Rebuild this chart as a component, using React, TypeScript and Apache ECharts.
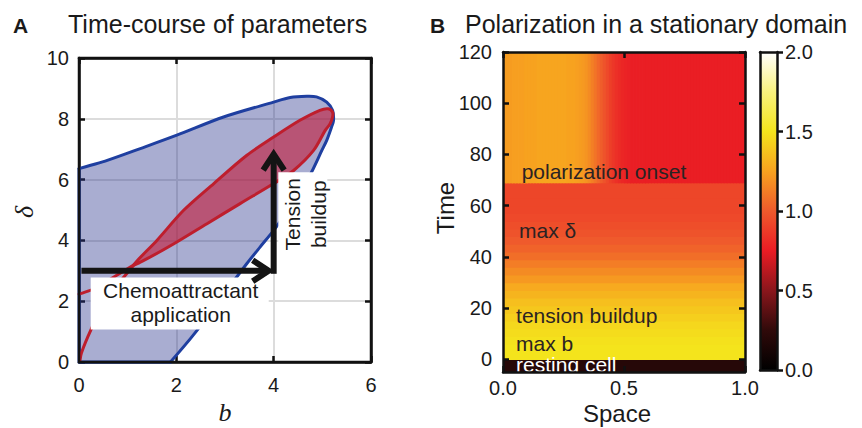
import React, { useEffect, useRef } from "react";
import * as echarts from "echarts";

const SANS = '"Liberation Sans", Arial, Helvetica, sans-serif';
const SERIF = '"Liberation Serif", "Times New Roman", serif';
const INK = "#1a1a1a";

// ---------------- Panel A: parameter plane (b, δ) ----------------
const bTickInterval = 2;
const deltaTickInterval = 2;

// blue (admissible) region: straight edges along the axes + curved boundary
const blueCornerB = [0, 0];
const blueCornerDelta = [0, 0];
const blueCurveB = [0, 0.24, 0.58, 1.26, 2.01, 2.97, 4.0, 4.34, 4.68, 4.88, 5.09, 5.21, 5.23, 5.19, 5.09, 4.99, 4.78, 4.54, 4.27, 4.0, 3.72, 3.45, 3.14, 2.83, 2.56, 2.29, 1.88];
const blueCurveDelta = [6.36, 6.47, 6.63, 7.02, 7.46, 8.06, 8.55, 8.7, 8.74, 8.72, 8.55, 8.28, 7.95, 7.73, 7.29, 6.96, 6.25, 5.54, 4.93, 4.33, 3.78, 3.24, 2.58, 1.92, 1.32, 0.77, 0];

// red lens (polarizing region)
const redLensB = [1.13, 1.6, 2.15, 2.77, 3.45, 4.0, 4.54, 4.95, 5.12, 5.21, 5.21, 5.16, 5.06, 4.82, 4.41, 4.0, 3.31, 2.63, 1.95, 1.4];
const redLensDelta = [3.2, 4.0, 4.99, 5.87, 6.8, 7.4, 7.95, 8.28, 8.33, 8.22, 8.06, 7.84, 7.62, 6.96, 6.3, 5.87, 5.21, 4.55, 3.89, 3.4];

// red curve continuations towards b = 0
const redTailAB = [1.13, 0.7, 0.31, 0.03, 0];
const redTailADelta = [3.2, 2.78, 2.41, 2.25, 2.23];
const redTailBB = [1.13, 0.8, 0.51, 0.24, 0.05, 0.02];
const redTailBDelta = [3.2, 2.55, 1.92, 1.04, 0.3, 0.05];

// trajectory arrows
const chemoArrowB = [0.05, 4.0];
const chemoArrowDelta = [3, 3];
const tensionArrowB = [4.0, 4.0];
const tensionArrowDelta = [3, 7];

// text labels inside panel A
const chemoLabel = { text: "Chemoattractant\napplication", b: 2.09, delta: 1.97 };
const tensionLabel = { text: "Tension\nbuildup", b: 4.65, delta: 4.86 };

// ---------------- Panel B: polarization heat map ----------------
const timeTicks = [0, 20, 40, 60, 80, 100, 120];
const timeMin = -5;
const timeMax = 120;
const restingValue = 0.2;
const earlyRowStep = 3;
const earlyRowStarts = [0, 3, 6, 9, 12, 15, 18, 21, 24, 27, 30, 33, 36, 39, 42, 45, 48, 51, 54, 57, 60, 63, 66];
const earlyRowValues = [1.5, 1.5, 1.49, 1.47, 1.45, 1.42, 1.39, 1.36, 1.32, 1.28, 1.22, 1.17, 1.12, 1.07, 1.03, 1.0, 0.97, 0.95, 0.93, 0.92, 0.92, 0.92, 0.92];
const onsetTime = 69;
const spaceStep = 0.0125;
const polarColumnValues = [
  1.23, 1.23, 1.23, 1.24, 1.24, 1.24, 1.24, 1.25,
  1.25, 1.25, 1.25, 1.26, 1.26, 1.26, 1.26, 1.26, 1.26, 1.26, 1.26, 1.26, 1.26, 1.25, 1.25, 1.25,
  1.24, 1.23, 1.22, 1.2, 1.17, 1.13, 1.09, 1.05, 1.01, 0.97, 0.93, 0.89, 0.86, 0.83, 0.81, 0.79,
  0.78, 0.77, 0.76, 0.76, 0.76, 0.76, 0.76, 0.76, 0.76, 0.76,
  0.76, 0.76, 0.76, 0.76, 0.76, 0.76, 0.76, 0.76, 0.76, 0.76,
  0.76, 0.76, 0.76, 0.76, 0.76, 0.76, 0.76, 0.76, 0.76, 0.76,
  0.76, 0.76, 0.76, 0.76, 0.76, 0.76, 0.76, 0.76, 0.76, 0.76,
];
const annotationsB = [
  { text: "polarization onset", space: 0.077, time: 73.3, color: "#2b2323" },
  { text: "max δ", space: 0.066, time: 50.1, color: "#2b2323" },
  { text: "tension buildup", space: 0.054, time: 17.0, color: "#2b2323" },
  { text: "max b", space: 0.054, time: 6.2, color: "#2b2323" },
  { text: "resting cell", space: 0.054, time: -2.2, color: "#ffffff" },
];

// colour scale (value 0 → 2)
const colorMin = 0;
const colorMax = 2;
const colorTickInterval = 0.5;
const colorMap = ["#000000", "#300a0a", "#8a161c", "#ea1c24", "#ef5a2c", "#f7a21f", "#f4e41c", "#f9f27e", "#ffffff"];

function buildOption() {
  const tickLabel = { color: INK, fontSize: 20, fontFamily: SANS };
  const frameLine = { show: true, onZero: false, lineStyle: { color: "#111", width: 2.5 } };
  const insideTick = { show: true, inside: true, length: 6, lineStyle: { color: "#111", width: 2.5 } };
  const noLabel = { show: false };
  const noSplit = { show: false };

  const heatCells: number[][] = [];
  heatCells.push([0, 1, timeMin, 0, restingValue]);
  earlyRowStarts.forEach((t, i) => heatCells.push([0, 1, t, t + earlyRowStep, earlyRowValues[i]]));
  polarColumnValues.forEach((v, i) => heatCells.push([i * spaceStep, (i + 1) * spaceStep, onsetTime, timeMax, v]));

  const toPts = (api: any, bs: number[], ds: number[]) => bs.map((b, i) => api.coord([b, ds[i]]));

  const arrowShapes = (api: any, bs: number[], ds: number[], startExtend: number) => {
    const p0 = api.coord([bs[0], ds[0]]);
    const p1 = api.coord([bs[1], ds[1]]);
    const dx = p1[0] - p0[0];
    const dy = p1[1] - p0[1];
    const len = Math.sqrt(dx * dx + dy * dy);
    const ux = dx / len;
    const uy = dy / len;
    const nx = -uy;
    const ny = ux;
    const vx = p1[0] - ux * 5;
    const vy = p1[1] - uy * 5;
    const back = 16;
    const half = 10.5;
    const style = { stroke: "#141414", lineWidth: 6, fill: "none", lineJoin: "miter", lineCap: "butt" };
    return [
      { type: "line", shape: { x1: p0[0] - ux * startExtend, y1: p0[1] - uy * startExtend, x2: vx - ux * 2, y2: vy - uy * 2 }, style },
      {
        type: "polyline",
        shape: { points: [[vx - ux * back + nx * half, vy - uy * back + ny * half], [vx, vy], [vx - ux * back - nx * half, vy - uy * back - ny * half]] },
        style,
      },
    ];
  };

  const BLUE = "#1f3fa0";
  const RED = "#be1e2d";

  const series: any[] = [
    // 0 blue region
    {
      type: "custom", xAxisIndex: 0, yAxisIndex: 0, silent: true, z: 2,
      data: [[0, 0]],
      renderItem: (params: any, api: any) => {
        if (params.dataIndex !== 0) return null;
        const curve = toPts(api, blueCurveB, blueCurveDelta);
        const corner = toPts(api, blueCornerB, blueCornerDelta);
        const st = { stroke: BLUE, lineWidth: 3, fill: "none", lineJoin: "round", lineCap: "round" };
        return {
          type: "group",
          children: [
            { type: "polygon", shape: { points: [corner[0], ...curve] }, style: { fill: "rgba(40,50,140,0.40)" } },
            { type: "polyline", shape: { points: curve, smooth: 0.3 }, style: st },
            { type: "polyline", shape: { points: [curve[0], corner[0], curve[curve.length - 1]] }, style: st },
          ],
        };
      },
    },
    // 1 red lens + tails
    {
      type: "custom", xAxisIndex: 0, yAxisIndex: 0, silent: true, z: 3,
      data: [[0, 0]],
      renderItem: (params: any, api: any) => {
        if (params.dataIndex !== 0) return null;
        const st = { stroke: RED, lineWidth: 3, fill: "none", lineJoin: "round", lineCap: "round" };
        return {
          type: "group",
          children: [
            {
              type: "polygon",
              shape: { points: toPts(api, redLensB, redLensDelta), smooth: 0.3 },
              style: { fill: "rgba(195,20,50,0.58)", stroke: RED, lineWidth: 3, lineJoin: "round" },
            },
            { type: "polyline", shape: { points: toPts(api, redTailAB, redTailADelta), smooth: 0.3 }, style: st },
            { type: "polyline", shape: { points: toPts(api, redTailBB, redTailBDelta), smooth: 0.3 }, style: st },
          ],
        };
      },
    },
    // 2 white label boxes and texts
    {
      type: "custom", xAxisIndex: 0, yAxisIndex: 0, silent: true, z: 4,
      data: [[0, 0]],
      renderItem: (params: any, api: any) => {
        if (params.dataIndex !== 0) return null;
        const c = api.coord([chemoLabel.b, chemoLabel.delta]);
        const t = api.coord([tensionLabel.b, tensionLabel.delta]);
        return {
          type: "group",
          children: [
            { type: "rect", shape: { x: c[0] - 90, y: c[1] - 24.7, width: 178, height: 52 }, style: { fill: "#ffffff" } },
            { type: "rect", shape: { x: t[0] - 27, y: t[1] - 42, width: 49, height: 90 }, style: { fill: "#ffffff" } },
            {
              type: "text", x: c[0], y: c[1],
              style: { text: chemoLabel.text, font: `21px ${SANS}`, fill: INK, align: "center", verticalAlign: "middle", textAlign: "center", textVerticalAlign: "middle", lineHeight: 24 },
            },
            {
              type: "text", x: t[0], y: t[1], rotation: Math.PI / 2,
              style: { text: tensionLabel.text, font: `21px ${SANS}`, fill: INK, align: "center", verticalAlign: "middle", textAlign: "center", textVerticalAlign: "middle", lineHeight: 26.5 },
            },
          ],
        };
      },
    },
    // 3 arrows
    {
      type: "custom", xAxisIndex: 0, yAxisIndex: 0, silent: true, z: 5,
      data: [[0, 0]],
      renderItem: (params: any, api: any) => {
        if (params.dataIndex !== 0) return null;
        return {
          type: "group",
          children: [
            ...arrowShapes(api, chemoArrowB, chemoArrowDelta, 0),
            ...arrowShapes(api, tensionArrowB, tensionArrowDelta, 3),
          ],
        };
      },
    },
    // 4 frame of panel A
    {
      type: "custom", xAxisIndex: 0, yAxisIndex: 0, silent: true, z: 6,
      data: [[0, 0]],
      renderItem: (params: any, api: any) => {
        if (params.dataIndex !== 0) return null;
        const p0 = api.coord([0, 10]);
        const p1 = api.coord([6, 0]);
        return { type: "rect", shape: { x: p0[0], y: p0[1], width: p1[0] - p0[0], height: p1[1] - p0[1] }, style: { fill: "none", stroke: "#111", lineWidth: 2.5 } };
      },
    },
    // 5 heat map
    {
      type: "custom", xAxisIndex: 2, yAxisIndex: 2, silent: true, clip: true, z: 2,
      data: heatCells,
      renderItem: (params: any, api: any) => {
        const p0 = api.coord([api.value(0), api.value(3)]);
        const p1 = api.coord([api.value(1), api.value(2)]);
        return {
          type: "rect",
          shape: { x: p0[0], y: p0[1], width: p1[0] - p0[0] + 0.8, height: p1[1] - p0[1] + 0.8 },
          style: { fill: api.visual("color") },
        };
      },
    },
    // 6 heat map annotations
    {
      type: "custom", xAxisIndex: 2, yAxisIndex: 2, silent: true, clip: true, z: 3,
      data: annotationsB.map((a, i) => [a.space, a.time, i]),
      renderItem: (params: any, api: any) => {
        const a = annotationsB[params.dataIndex];
        const p = api.coord([a.space, a.time]);
        return {
          type: "text", x: p[0], y: p[1],
          style: { text: a.text, font: `21px ${SANS}`, fill: a.color, lineHeight: 17, align: "left", verticalAlign: "middle", textAlign: "left", textVerticalAlign: "middle" },
        };
      },
    },
    // 7 colour bar
    {
      type: "custom", xAxisIndex: 4, yAxisIndex: 4, silent: true, z: 2,
      data: [[0, colorMin]],
      renderItem: (params: any, api: any) => {
        const p0 = api.coord([0, colorMax]);
        const p1 = api.coord([1, colorMin]);
        const stops = colorMap.map((c, i) => ({ offset: 1 - i / (colorMap.length - 1), color: c })).reverse();
        return {
          type: "rect",
          shape: { x: p0[0], y: p0[1], width: p1[0] - p0[0], height: p1[1] - p0[1] },
          style: { fill: new echarts.graphic.LinearGradient(0, 0, 0, 1, stops) },
        };
      },
    },
  ];

  const titleText = (x: number, y: number, text: string, font: string, align: string, rotation = 0) => ({
    type: "text", x, y, rotation, silent: true,
    style: { text, font, fill: INK, align, verticalAlign: "middle", textAlign: align, textVerticalAlign: "middle" },
  });

  return {
    animation: false,
    backgroundColor: "#ffffff",
    grid: [
      { left: 79, top: 58, width: 292, height: 304, outerBoundsMode: "none" },
      { left: 503, top: 52, width: 242, height: 320, outerBoundsMode: "none" },
      { left: 760, top: 52, width: 17, height: 318, outerBoundsMode: "none" },
    ],
    visualMap: {
      type: "continuous", show: false, min: colorMin, max: colorMax, dimension: 4, seriesIndex: 5,
      inRange: { color: colorMap },
    },
    xAxis: [
      {
        gridIndex: 0, type: "value", min: 0, max: 6, interval: bTickInterval, position: "bottom",
        axisLine: frameLine, axisTick: insideTick, axisLabel: { ...tickLabel, margin: 13 },
        splitLine: { show: true, lineStyle: { color: "#dcdcdc", width: 2 } },
      },
      {
        gridIndex: 0, type: "value", min: 0, max: 6, interval: bTickInterval, position: "top",
        axisLine: frameLine, axisTick: insideTick, axisLabel: noLabel, splitLine: noSplit,
      },
      {
        gridIndex: 1, type: "value", min: 0, max: 1, interval: 0.5, position: "bottom", z: 10,
        axisLine: frameLine, axisTick: insideTick,
        axisLabel: { ...tickLabel, margin: 6, formatter: (v: number) => v.toFixed(1) }, splitLine: noSplit,
      },
      {
        gridIndex: 1, type: "value", min: 0, max: 1, interval: 0.5, position: "top", z: 10,
        axisLine: frameLine, axisTick: insideTick, axisLabel: noLabel, splitLine: noSplit,
      },
      {
        gridIndex: 2, type: "value", min: 0, max: 1, position: "bottom", z: 10,
        axisLine: frameLine, axisTick: { show: false }, axisLabel: noLabel, splitLine: noSplit,
      },
      {
        gridIndex: 2, type: "value", min: 0, max: 1, position: "top", z: 10,
        axisLine: frameLine, axisTick: { show: false }, axisLabel: noLabel, splitLine: noSplit,
      },
    ],
    yAxis: [
      {
        gridIndex: 0, type: "value", min: 0, max: 10, interval: deltaTickInterval, position: "left",
        axisLine: frameLine, axisTick: insideTick, axisLabel: { ...tickLabel, margin: 10 },
        splitLine: { show: true, lineStyle: { color: "#dcdcdc", width: 2 } },
      },
      {
        gridIndex: 0, type: "value", min: 0, max: 10, interval: deltaTickInterval, position: "right",
        axisLine: frameLine, axisTick: insideTick, axisLabel: noLabel, splitLine: noSplit,
      },
      {
        gridIndex: 1, type: "value", min: timeMin, max: timeMax, position: "left", z: 10,
        axisLine: frameLine, axisTick: { ...insideTick, customValues: timeTicks },
        axisLabel: { ...tickLabel, margin: 11, customValues: timeTicks }, splitLine: noSplit,
      },
      {
        gridIndex: 1, type: "value", min: timeMin, max: timeMax, position: "right", z: 10,
        axisLine: frameLine, axisTick: { ...insideTick, customValues: timeTicks },
        axisLabel: { show: false, customValues: timeTicks }, splitLine: noSplit,
      },
      {
        gridIndex: 2, type: "value", min: colorMin, max: colorMax, position: "left", z: 10,
        axisLine: frameLine, axisTick: { show: false }, axisLabel: noLabel, splitLine: noSplit,
      },
      {
        gridIndex: 2, type: "value", min: colorMin, max: colorMax, interval: colorTickInterval, position: "right", z: 10,
        axisLine: frameLine, axisTick: { show: true, inside: false, length: 6, lineStyle: { color: "#111", width: 2.5 } },
        axisLabel: { ...tickLabel, margin: 8, formatter: (v: number) => v.toFixed(1) }, splitLine: noSplit,
      },
    ],
    graphic: {
      elements: [
        titleText(13, 25, "A", `bold 21px ${SANS}`, "left"),
        titleText(68, 24, "Time-course of parameters", `25px ${SANS}`, "left"),
        titleText(430, 25, "B", `bold 21px ${SANS}`, "left"),
        titleText(465, 24, "Polarization in a stationary domain", `25px ${SANS}`, "left"),
        titleText(225, 412, "b", `italic 26px ${SERIF}`, "center"),
        titleText(24, 212, "δ", `italic 26px ${SERIF}`, "center", Math.PI / 2),
        titleText(445, 208, "Time", `24px ${SANS}`, "center", Math.PI / 2),
        titleText(617, 413, "Space", `24px ${SANS}`, "center"),
      ],
    },
    series,
  };
}

export default function App() {
  const ref = useRef<HTMLDivElement>(null);
  useEffect(() => {
    if (!ref.current) return;
    const chart = echarts.init(ref.current, undefined, { renderer: "svg" });
    chart.setOption(buildOption() as any);
    return () => chart.dispose();
  }, []);
  return (
    <div
      ref={ref}
      style={{ position: "fixed", left: 0, top: 0, width: 862, height: 428, background: "#ffffff" }}
    />
  );
}
